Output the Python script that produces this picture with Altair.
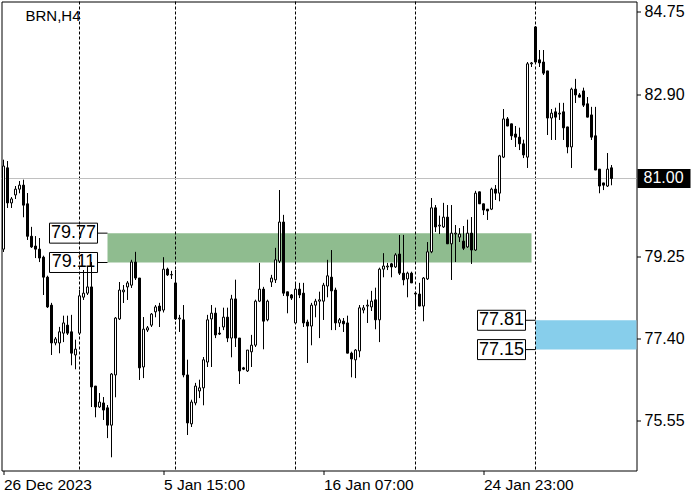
import altair as alt
import pandas as pd

# ---------------- data ----------------
opens = [79.41, 81.24, 80.45, 80.63, 80.76, 80.85, 80.43, 79.70, 79.48, 79.41,
         79.23, 78.78, 78.15, 77.30, 77.30, 77.52, 77.70, 77.55, 77.03, 77.52,
         78.33, 78.42, 78.56, 76.33, 75.86, 75.95, 75.84, 75.45, 76.58, 77.84,
         78.45, 78.56, 78.60, 79.12, 78.76, 76.76, 77.59, 77.70, 78.00, 78.13,
         78.04, 78.96, 78.83, 78.65, 77.84, 77.82, 76.58, 75.48, 75.95, 76.22,
         76.29, 76.87, 77.84, 77.97, 77.52, 77.66, 77.88, 77.41, 78.29, 77.41,
         76.74, 76.67, 77.10, 77.25, 78.24, 78.51, 77.82, 78.67, 78.72, 79.14,
         80.02, 78.45, 78.38, 77.75, 78.51, 78.42, 77.77, 77.68, 78.15, 78.24,
         78.24, 78.58, 78.78, 78.49, 77.75, 77.79, 77.75, 77.07, 76.92, 77.12,
         78.04, 78.13, 78.11, 78.27, 77.82, 78.96, 79.01, 79.08, 79.01, 79.30,
         78.87, 78.74, 78.87, 78.42, 78.40, 78.13, 78.74, 79.35, 80.34, 79.93,
         79.91, 80.13, 79.53, 79.75, 79.68, 79.59, 79.46, 79.77, 79.39, 80.70,
         80.43, 80.31, 80.31, 80.76, 80.67, 81.48, 82.34, 82.23, 82.00, 81.93,
         81.78, 81.48, 83.58, 84.41, 83.67, 83.62, 83.42, 82.36, 82.50, 82.45,
         82.50, 82.16, 81.71, 83.01, 82.88, 82.97, 82.68, 82.43, 81.96, 81.21,
         80.90, 80.83, 81.24]
highs = [81.42, 81.39, 80.58, 80.83, 80.94, 80.97, 80.67, 79.91, 79.70, 79.66,
         79.26, 78.81, 78.20, 77.43, 77.66, 77.91, 77.91, 77.93, 77.37, 78.49,
         78.94, 79.01, 79.12, 76.33, 76.17, 76.08, 75.90, 76.62, 77.88, 78.67,
         78.60, 78.69, 79.17, 79.35, 78.76, 77.88, 77.68, 77.97, 78.15, 78.20,
         79.23, 78.99, 78.92, 78.94, 77.93, 78.15, 76.92, 76.02, 76.40, 76.47,
         76.98, 77.93, 78.15, 78.09, 77.66, 78.09, 78.09, 78.38, 78.72, 77.41,
         76.76, 77.14, 77.48, 78.27, 79.10, 78.56, 78.27, 78.83, 79.44, 80.74,
         80.18, 78.45, 78.40, 78.65, 78.65, 78.65, 77.82, 78.20, 78.29, 78.45,
         78.65, 79.17, 79.39, 78.54, 77.86, 77.86, 77.91, 77.10, 77.16, 78.15,
         78.15, 78.27, 78.47, 78.54, 78.99, 79.32, 79.10, 79.10, 79.32, 79.73,
         79.73, 78.90, 78.90, 78.45, 78.65, 78.78, 79.57, 80.56, 80.40, 80.16,
         80.45, 80.40, 80.40, 79.95, 79.88, 79.93, 80.07, 80.13, 80.72, 80.70,
         80.43, 80.31, 80.79, 80.85, 81.53, 82.56, 82.38, 82.23, 82.18, 82.14,
         81.87, 83.62, 83.62, 84.43, 83.89, 83.89, 83.42, 82.56, 82.59, 82.70,
         82.70, 82.16, 83.04, 83.24, 82.92, 83.04, 82.83, 82.61, 82.61, 81.21,
         80.90, 81.57, 81.30]
lows = [79.35, 80.34, 80.34, 80.54, 80.67, 80.13, 79.62, 79.44, 79.21, 79.12,
        78.38, 78.09, 77.03, 77.25, 77.07, 77.32, 77.48, 76.80, 76.71, 77.48,
        78.27, 78.38, 75.86, 75.63, 75.84, 75.57, 75.16, 74.73, 76.08, 77.82,
        78.20, 78.27, 78.54, 78.72, 76.47, 76.51, 77.55, 77.66, 77.88, 77.66,
        77.99, 78.81, 78.74, 77.82, 77.55, 76.53, 75.23, 75.41, 75.90, 76.06,
        75.90, 76.76, 76.76, 77.41, 77.48, 77.59, 77.32, 76.98, 77.21, 76.38,
        76.69, 76.65, 76.76, 77.21, 78.22, 77.16, 77.79, 78.56, 78.65, 79.10,
        78.36, 77.97, 78.27, 77.75, 78.31, 77.66, 76.85, 77.25, 77.88, 77.41,
        77.82, 78.33, 77.59, 77.59, 77.66, 77.55, 77.07, 76.53, 76.51, 76.98,
        77.97, 77.75, 78.02, 77.61, 77.32, 78.78, 78.94, 78.78, 78.99, 78.83,
        78.60, 78.33, 78.65, 78.04, 78.13, 77.79, 78.72, 79.32, 79.80, 79.75,
        79.89, 79.53, 78.72, 79.12, 79.57, 79.39, 79.44, 79.08, 79.37, 80.43,
        80.18, 80.07, 80.29, 80.52, 80.49, 81.46, 82.18, 81.87, 81.71, 81.64,
        81.46, 81.24, 83.51, 83.60, 83.51, 83.33, 81.98, 81.87, 81.87, 82.32,
        81.87, 81.57, 81.24, 82.70, 82.83, 82.61, 82.38, 81.87, 81.19, 80.67,
        80.74, 80.81, 80.85]
closes = [81.28, 80.45, 80.54, 80.76, 80.85, 80.40, 79.70, 79.46, 79.41, 79.21,
          78.78, 78.11, 77.30, 77.39, 77.55, 77.75, 77.52, 77.07, 77.16, 78.36,
          78.42, 78.56, 76.31, 75.86, 75.97, 75.79, 75.45, 76.60, 77.86, 78.49,
          78.49, 78.65, 79.12, 78.76, 76.74, 77.61, 77.64, 77.95, 78.11, 78.02,
          78.96, 78.83, 78.84, 77.84, 77.86, 76.58, 75.50, 75.97, 76.33, 76.29,
          76.92, 77.82, 77.97, 77.48, 77.50, 77.88, 77.41, 78.29, 77.41, 76.67,
          76.71, 77.14, 77.25, 78.24, 78.51, 77.79, 78.24, 78.76, 79.17, 80.02,
          78.42, 78.36, 78.31, 78.51, 78.38, 77.75, 77.68, 78.15, 78.24, 78.27,
          78.60, 78.81, 78.47, 77.75, 77.82, 77.73, 77.07, 76.94, 77.14, 78.09,
          78.09, 78.15, 78.24, 77.82, 78.96, 79.03, 79.03, 79.01, 79.28, 78.87,
          78.72, 78.87, 78.65, 78.40, 78.13, 78.76, 79.35, 80.34, 79.91, 79.95,
          80.13, 79.53, 79.77, 79.77, 79.75, 79.43, 79.77, 79.39, 80.67, 80.43,
          80.29, 80.27, 80.76, 80.67, 81.51, 82.34, 82.18, 81.96, 81.93, 81.78,
          81.53, 83.58, 83.60, 83.62, 83.60, 83.37, 82.36, 82.47, 82.38, 82.47,
          82.14, 81.71, 83.01, 82.88, 82.83, 82.65, 82.38, 81.93, 81.19, 80.83,
          80.85, 81.21, 81.00]
bar_index = list(range(len(opens)))

separator_idx = [19, 43, 73, 103, 133]
tick_idx = [0, 40, 80, 120]
tick_labels = ["26 Dec 2023", "5 Jan 15:00", "16 Jan 07:00", "24 Jan 23:00"]
y_ticks = [84.75, 82.90, 79.25, 77.40, 75.55]

zone_start = [26, 133]
zone_end = [132, 160]
zone_top = [79.77, 77.81]
zone_bottom = [79.11, 77.15]
zone_colors = ["#8fbc8f", "#87ceeb"]

current_price = 81.00
symbol_title = "BRN,H4"

# ---------------- tables ----------------
candles = pd.DataFrame({"i": bar_index, "open": opens, "high": highs,
                        "low": lows, "close": closes})
zones = pd.DataFrame({"start": zone_start, "end": zone_end, "top": zone_top,
                      "bottom": zone_bottom, "color": zone_colors})
zone_labels = pd.DataFrame({
    "start": zone_start + zone_start,
    "price": zone_top + zone_bottom,
})
zone_labels["label"] = zone_labels["price"].map(lambda v: f"{v:.2f}")
seps = pd.DataFrame({"i": separator_idx})
cur = pd.DataFrame({"price": [current_price], "label": [f"{current_price:.2f}"]})

FONT = "Liberation Sans"
xs = alt.Scale(domain=[-0.5, 158.25], nice=False, zero=False, padding=0)
ys = alt.Scale(domain=[74.430, 84.982], nice=False, zero=False, padding=0)

label_expr = " : ".join(
    f"datum.value == {v} ? '{t}'" for v, t in zip(tick_idx, tick_labels)
) + " : ''"

x_axis = alt.Axis(values=tick_idx, labelExpr=label_expr, title=None, grid=False,
                  domain=False, tickSize=4, tickColor="black", labelAlign="left",
                  labelBaseline="top", labelPadding=3, labelFont=FONT,
                  labelFontSize=15.5, labelColor="black", labelOverlap=False,
                  labelFlush=False)
y_axis = alt.Axis(values=y_ticks, format=".2f", orient="right", title=None,
                  grid=False, domain=False, tickSize=4, tickColor="black",
                  labelPadding=3.5, labelFont=FONT, labelFontSize=16,
                  labelColor="black", labelBaseline="middle")

wicks = alt.Chart(candles).mark_rule(color="black", strokeWidth=1).encode(
    x=alt.X("i:Q", scale=xs, axis=x_axis),
    y=alt.Y("low:Q", scale=ys, axis=y_axis),
    y2="high:Q",
)

zone_layer = alt.Chart(zones).mark_rect(clip=True).encode(
    x=alt.X("start:Q", scale=xs), x2="end:Q",
    y=alt.Y("top:Q", scale=ys), y2="bottom:Q",
    color=alt.Color("color:N", scale=None),
)

sep_layer = alt.Chart(seps).mark_rule(color="black", strokeWidth=1,
                                      strokeDash=[3, 2]).encode(
    x=alt.X("i:Q", scale=xs),
)

price_line = alt.Chart(cur).mark_rule(color="#c0c0c0", strokeWidth=1).encode(
    y=alt.Y("price:Q", scale=ys),
)

bodies = alt.Chart(candles).mark_bar(size=2, stroke="black", strokeWidth=1).encode(
    x=alt.X("i:Q", scale=xs),
    y=alt.Y("open:Q", scale=ys), y2="close:Q",
    fill=alt.condition("datum.close >= datum.open", alt.value("white"),
                       alt.value("black")),
)

label_boxes = alt.Chart(zone_labels).mark_rect(
    xOffset=-58, x2Offset=-10, yOffset=-10, y2Offset=10,
    fillOpacity=0, stroke="black", strokeWidth=1,
).encode(
    x=alt.X("start:Q", scale=xs), x2="start:Q",
    y=alt.Y("price:Q", scale=ys), y2="price:Q",
)

connectors = alt.Chart(zone_labels).mark_rule(
    color="black", strokeWidth=1, xOffset=-10).encode(
    x=alt.X("start:Q", scale=xs), x2="start:Q",
    y=alt.Y("price:Q", scale=ys),
)

label_text = alt.Chart(zone_labels).mark_text(
    xOffset=-34, align="center", baseline="middle", font=FONT, fontSize=18,
    color="black").encode(
    x=alt.X("start:Q", scale=xs),
    y=alt.Y("price:Q", scale=ys),
    text="label:N",
)

tag_box = alt.Chart(cur).mark_rect(color="black", yOffset=-9.5, y2Offset=9.5).encode(
    x=alt.value(636), x2=alt.value(689),
    y=alt.Y("price:Q", scale=ys), y2="price:Q",
)
tag_text = alt.Chart(cur).mark_text(align="left", baseline="middle", font=FONT,
                                    fontSize=16, color="white").encode(
    x=alt.value(642),
    y=alt.Y("price:Q", scale=ys),
    text="label:N",
)

title_text = alt.Chart(cur).mark_text(align="left", baseline="middle", font=FONT,
                                      fontSize=15, color="black").encode(
    x=alt.value(24), y=alt.value(14), text=alt.value(symbol_title),
)

chart = alt.layer(
    wicks, zone_layer, sep_layer, price_line, wicks, bodies,
    label_boxes, connectors, label_text, tag_box, tag_text, title_text,
).properties(
    width=635, height=469,
    autosize=alt.AutoSizeParams(type="none"),
    padding={"left": 1.5, "top": 1.5, "right": 63.5, "bottom": 29.5},
    background="white",
).configure_view(stroke="black", strokeWidth=1)

chart.save("out.html", embed_options={"renderer": "svg", "actions": False})
